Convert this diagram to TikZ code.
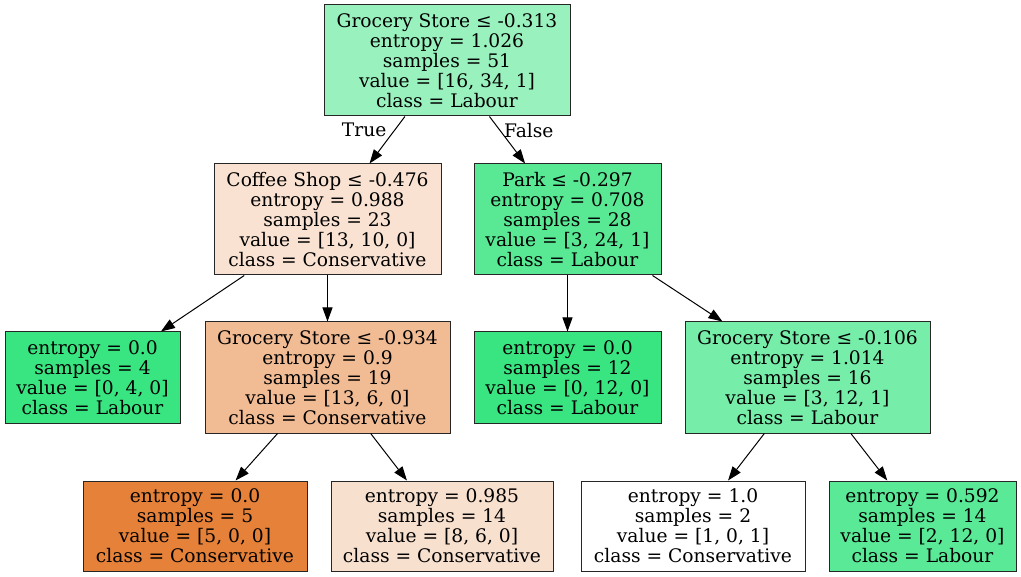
\documentclass[tikz,border=0pt]{standalone}
\usepackage{fontspec}
\setmainfont{DejaVu Serif}
\usetikzlibrary{arrows.meta}
\definecolor{labour}{RGB}{57,229,129}
\definecolor{conserv}{RGB}{229,129,57}
\definecolor{rootfill}{RGB}{153,242,190}
\definecolor{coffeefill}{RGB}{249,226,209}
\definecolor{parkfill}{RGB}{89,233,149}
\definecolor{grocbfill}{RGB}{241,187,148}
\definecolor{grocdfill}{RGB}{118,237,168}
\definecolor{mixfill}{RGB}{248,224,206}
\definecolor{greenfill}{RGB}{90,233,150}

\begin{document}
\begin{tikzpicture}[x=0.75pt, y=-0.75pt, font=\fontsize{14}{15}\selectfont,
    box/.style n args={3}{draw=black!85, line width=0.75pt, fill=#1, align=center, inner sep=0pt,
        minimum width=#2*0.75pt, minimum height=#3*0.75pt},
    edge/.style={line width=0.75pt, -{Triangle[length=10.5pt, width=7.5pt]}}]

    \useasboundingbox (0,0) rectangle (1021,577);

    % Root
    \node[box={rootfill}{246}{111}] (root) at (447,60.5)
        {Grocery Store ≤ -0.313\\entropy = 1.026\\samples = 51\\value = [16, 34, 1]\\class = Labour};

    % Depth 1
    \node[box={coffeefill}{227}{111}] (coffee) at (327.5,219.5)
        {Coffee Shop ≤ -0.476\\entropy = 0.988\\samples = 23\\value = [13, 10, 0]\\class = Conservative};
    \node[box={parkfill}{187}{111}] (park) at (567.5,219.5)
        {Park ≤ -0.297\\entropy = 0.708\\samples = 28\\value = [3, 24, 1]\\class = Labour};

    % Depth 2
    \node[box={labour}{175}{91}] (leafA) at (92.5,377.5)
        {entropy = 0.0\\samples = 4\\value = [0, 4, 0]\\class = Labour};
    \node[box={grocbfill}{245}{111}] (grocB) at (327.5,377.5)
        {Grocery Store ≤ -0.934\\entropy = 0.9\\samples = 19\\value = [13, 6, 0]\\class = Conservative};
    \node[box={labour}{187}{91}] (leafC) at (567.5,377.5)
        {entropy = 0.0\\samples = 12\\value = [0, 12, 0]\\class = Labour};
    \node[box={grocdfill}{245}{111}] (grocD) at (807.5,377.5)
        {Grocery Store ≤ -0.106\\entropy = 1.014\\samples = 16\\value = [3, 12, 1]\\class = Labour};

    % Depth 3
    \node[box={conserv}{224}{90}] (leafE) at (195,526)
        {entropy = 0.0\\samples = 5\\value = [5, 0, 0]\\class = Conservative};
    \node[box={mixfill}{222}{90}] (leafF) at (442,526)
        {entropy = 0.985\\samples = 14\\value = [8, 6, 0]\\class = Conservative};
    \node[box={white}{224}{90}] (leafG) at (693,526)
        {entropy = 1.0\\samples = 2\\value = [1, 0, 1]\\class = Conservative};
    \node[box={greenfill}{187}{90}] (leafH) at (922.5,526)
        {entropy = 0.592\\samples = 14\\value = [2, 12, 0]\\class = Labour};

    % Edges
    \draw[edge] (root) -- node[pos=0.29, left=2.5pt] (lbltrue) {True} (coffee);
    \draw[edge] (root) -- node[pos=0.29, right=-0.5pt] (lblfalse) {False} (park);
    \foreach \a/\b in {coffee/leafA, coffee/grocB, park/leafC, park/grocD,
                       grocB/leafE, grocB/leafF, grocD/leafG, grocD/leafH}
        \draw[edge] (\a) -- (\b);

\end{tikzpicture}
\end{document}
